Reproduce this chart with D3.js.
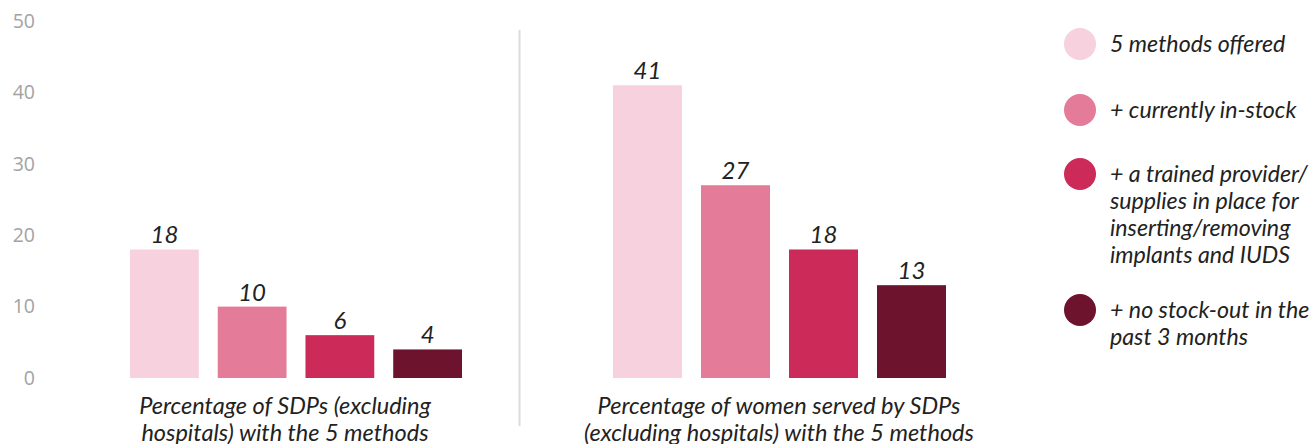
<!DOCTYPE html>
<html>
<head>
<meta charset="utf-8">
<script src="https://cdn.jsdelivr.net/npm/d3@7"></script>
<style>
  body { margin: 0; background: #fff; }
  svg { display: block; }
</style>
</head>
<body>
<div id="chart"></div>
<script>
const series = ["5 methods offered", "+ currently in-stock",
  "+ a trained provider/ supplies in place for inserting/removing implants and IUDS",
  "+ no stock-out in the past 3 months"];
const legendLines = [
  ["5 methods offered"],
  ["+ currently in-stock"],
  ["+ a trained provider/", "supplies in place for", "inserting/removing", "implants and IUDS"],
  ["+ no stock-out in the", "past 3 months"]
];
const colors = ["#f7d1dd", "#e37b99", "#cc2a58", "#6e132d"];
const sdpValues = [18, 10, 6, 4];
const womenValues = [41, 27, 18, 13];
const groupLabels = [
  ["Percentage of SDPs (excluding", "hospitals) with the 5 methods"],
  ["Percentage of women served by SDPs", "(excluding hospitals) with the 5 methods"]
];
const yTicks = [0, 10, 20, 30, 40, 50];

const width = 1314, height = 444;
const svg = d3.select("#chart").append("svg")
  .attr("width", width).attr("height", height);

const y = d3.scaleLinear().domain([0, 50]).range([378, 21]);

// y axis labels
svg.append("g")
  .selectAll("text")
  .data(yTicks)
  .enter().append("text")
  .attr("x", 35)
  .attr("y", d => y(d))
  .attr("dy", "0.35em")
  .attr("text-anchor", "end")
  .attr("font-family", "'Open Sans', sans-serif")
  .attr("font-size", "19.5px")
  .attr("fill", "#a3a3a3")
  .text(d => d);

// divider
svg.append("line")
  .attr("x1", 519.5).attr("x2", 519.5)
  .attr("y1", 30).attr("y2", 426)
  .attr("stroke", "#dcdcdc").attr("stroke-width", 2);

const groups = [
  { values: sdpValues, range: [130, 462], label: groupLabels[0], labelX: 285 },
  { values: womenValues, range: [613, 946], label: groupLabels[1], labelX: 779 }
];

const txt = sel => sel
  .attr("font-family", "Lato, sans-serif")
  .attr("font-style", "italic")
  .attr("fill", "#222");

groups.forEach(grp => {
  const x = d3.scaleBand().domain(series).range(grp.range).paddingInner(0.216).paddingOuter(0);
  const g = svg.append("g");
  const data = series.map((s, i) => ({ s, v: grp.values[i], c: colors[i] }));

  g.selectAll("rect")
    .data(data)
    .enter().append("rect")
    .attr("x", d => x(d.s))
    .attr("y", d => y(d.v))
    .attr("width", x.bandwidth())
    .attr("height", d => y(0) - y(d.v))
    .attr("fill", d => d.c);

  g.selectAll("text.val")
    .data(data)
    .enter().append("text")
    .attr("class", "val")
    .attr("x", d => x(d.s) + x.bandwidth() / 2)
    .attr("y", d => y(d.v) - 6)
    .attr("text-anchor", "middle")
    .attr("font-size", "24px")
    .call(txt)
    .text(d => d.v);

  g.selectAll("text.cat")
    .data(grp.label)
    .enter().append("text")
    .attr("class", "cat")
    .attr("x", grp.labelX)
    .attr("y", (d, i) => 414 + i * 27)
    .attr("text-anchor", "middle")
    .attr("font-size", "23.5px")
    .call(txt)
    .text(d => d);
});

// legend
const legendY = [44, 110, 174, 310];
const legend = svg.append("g");
legendLines.forEach((lines, i) => {
  legend.append("circle")
    .attr("cx", 1080).attr("cy", legendY[i]).attr("r", 16)
    .attr("fill", colors[i]);
  legend.append("g").selectAll("text")
    .data(lines)
    .enter().append("text")
    .attr("x", 1110)
    .attr("y", (d, j) => legendY[i] + j * 27)
    .attr("dy", "0.35em")
    .attr("font-size", "23.2px")
    .call(txt)
    .text(d => d);
});
</script>
</body>
</html>
